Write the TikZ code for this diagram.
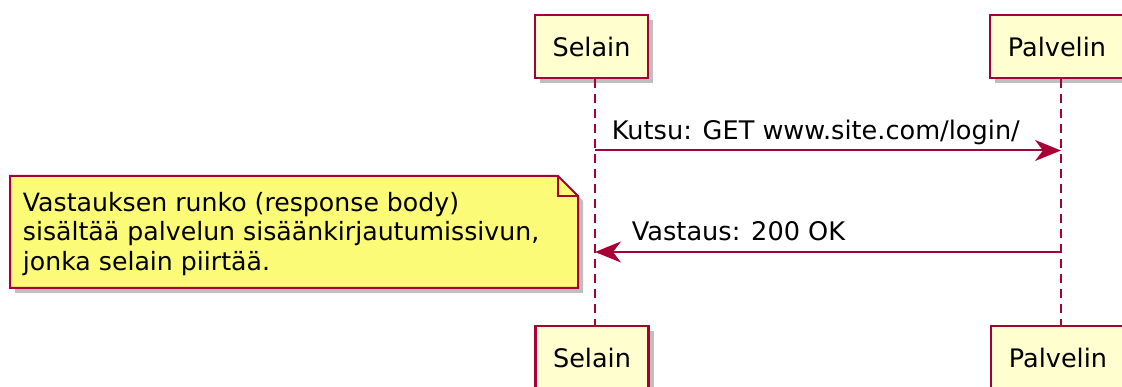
\documentclass[tikz,border=0pt]{standalone}
\usepackage{fontspec}
\setmainfont{DejaVu Sans}
\usetikzlibrary{arrows.meta,shadows}
\definecolor{puRed}{HTML}{A80036}
\definecolor{puPart}{HTML}{FEFECE}
\definecolor{puNote}{HTML}{FBFB77}
\tikzset{
  shad/.style={drop shadow={shadow xshift=5pt,shadow yshift=-5pt,fill=black!55,opacity=.45}},
  part/.style={draw=puRed,line width=2.5pt,fill=puPart,shad,minimum width=113pt,minimum height=63pt,inner sep=0pt,font=\fontsize{25.5}{30}\selectfont},
  life/.style={draw=puRed,line width=2pt,dash pattern=on 9pt off 6pt},
  msg/.style={draw=puRed,line width=2pt,-{Stealth[length=26pt,width=21pt,inset=8pt]}},
  lbl/.style={inner sep=0pt,anchor=base west,font=\fontsize{25.6}{30}\selectfont},
  notebox/.style={draw=puRed,line width=2pt,fill=puNote,shad},
}
\begin{document}
\begin{tikzpicture}[x=1pt,y=-1pt]
\useasboundingbox (0,0) rectangle (1122,387);
\clip (0,0) rectangle (1122,387);
\fill[white] (0,0) rectangle (1122,387);
% lifeline positions
\coordinate (sx) at (595,0);
\coordinate (px) at (1061,0);
% participants
\node[part] (s1) at (591.5,46.5) {Selain};
\node[part,minimum width=134pt] (p1) at (1057,46.5) {Palvelin};
\node[part] (s2) at (592,357.5) {Selain};
\node[part,minimum width=134pt] (p2) at (1058,357.5) {Palvelin};
% lifelines
\draw[life] (s1.south -| sx) -- (s2.north -| sx);
\draw[life] (p1.south -| px) -- (p2.north -| px);
% message 1
\coordinate (m1a) at (595,150.5);
\coordinate (m1b) at (1061,150.5);
\draw[msg] (m1a) -- (m1b);
\node[lbl] (l1) at (611.7,139.5) {Kutsu: GET www.site.com/login/};
% message 2
\coordinate (m2a) at (1061,252);
\coordinate (m2b) at (595,252);
\draw[msg] (m2a) -- (m2b);
\node[lbl] (l2) at (631.7,240.5) {Vastaus: 200 OK};
% note
\path[notebox] (10,176) -- (558,176) -- (578,196) -- (578,288) -- (10,288) -- cycle;
\draw[puRed,line width=2pt] (558,176) -- (558,196) -- (578,196);
\node[inner sep=0pt,anchor=base west,align=left,font=\fontsize{25.2}{29.3}\selectfont] (note) at (22.7,270.3)
  {Vastauksen runko (response body)\\sisältää palvelun sisäänkirjautumissivun,\\jonka selain piirtää.};
\end{tikzpicture}
\end{document}
